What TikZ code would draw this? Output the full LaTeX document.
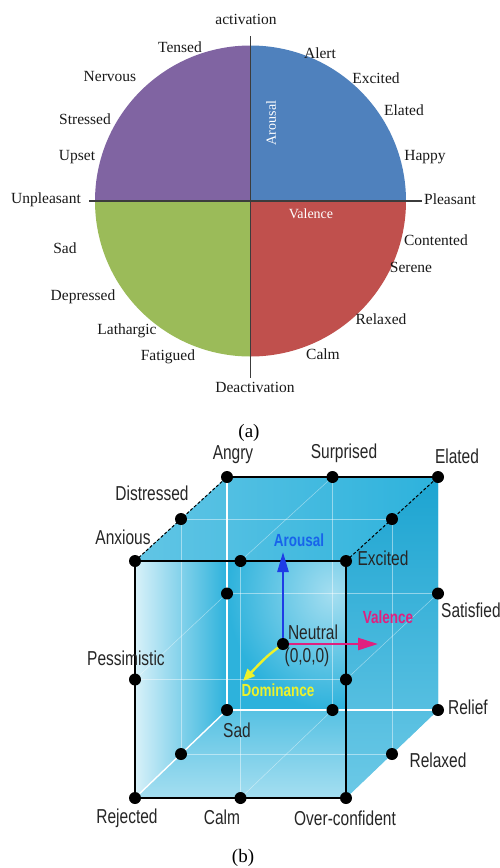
\documentclass[tikz,border=0pt]{standalone}
\usepackage{fontspec}
\setmainfont{Liberation Serif}
\setsansfont{Liberation Sans}
\usetikzlibrary{calc,arrows.meta}
\definecolor{quadpurple}{HTML}{8064A2}
\definecolor{quadblue}{HTML}{4F81BD}
\definecolor{quadgreen}{HTML}{9BBB59}
\definecolor{quadred}{HTML}{C0504D}
\definecolor{axisgray}{HTML}{3C3C3C}
\definecolor{cubecyan}{HTML}{2DB2DC}
\definecolor{cubedeep}{HTML}{1CA4D1}
\definecolor{cubepale}{HTML}{D8F1F9}
\definecolor{arousalblue}{HTML}{1E3CE6}
\definecolor{valencepink}{HTML}{E0207F}
\definecolor{dominyellow}{HTML}{EEF22A}
\def\pieslice[#1](#2)(#3:#4:#5){\fill[#1] (#2) -- ($(#2)+({#5*cos(#3)},{#5*sin(#3)})$) arc (#3:#4:#5) -- cycle;}
\tikzset{
	emo/.style={font=\fontsize{15.5}{17}\selectfont, text=black!90, inner sep=0pt},
	axname/.style={font=\fontsize{14}{16}\selectfont, text=white, inner sep=0pt},
	axis/.style={draw=axisgray, line width=1.3pt},
	cubelabel/.style={font=\fontsize{15.5}{17}\sffamily, text=black!85, yscale=1.3, inner sep=0pt},
	arrowlabel/.style={font=\fontsize{13.5}{15}\sffamily\bfseries, yscale=1.3, inner sep=0pt},
	cubeedge/.style={draw=black, line width=1.7pt},
	backedge/.style={draw=white, line width=1.4pt},
	gridline/.style={draw=white, line width=0.5pt, opacity=0.45},
	caption/.style={font=\fontsize{19}{21}\selectfont, inner sep=0pt}
}

\begin{document}
\begin{tikzpicture}[x=1pt,y=-1pt]
	\path[use as bounding box, fill=white] (0,0) rectangle (499,868);

	\coordinate (cen) at (250.5,201);
	\pieslice[quadblue](cen)(270:360:155.5)
	\pieslice[quadpurple](cen)(180:270:155.5)
	\pieslice[quadgreen](cen)(90:180:155.5)
	\pieslice[quadred](cen)(0:90:155.5)

	\coordinate (axtop) at (250.5,36);
	\coordinate (axbot) at (250.5,378);
	\coordinate (axleft) at (89,201);
	\coordinate (axright) at (422,201);
	\draw[axis] (axtop) -- (axbot);
	\draw[axis] (axleft) -- (axright);

	\node[emo] (activation) at (246,19) {activation};
	\node[emo] (tensed) at (180,47) {Tensed};
	\node[emo] (alert) at (320,53) {Alert};
	\node[emo] (nervous) at (110,76) {Nervous};
	\node[emo] (excitedA) at (376,78) {Excited};
	\node[emo] (stressed) at (85,119) {Stressed};
	\node[emo] (elatedA) at (404,110) {Elated};
	\node[emo] (upset) at (77,157) {Upset};
	\node[emo] (happy) at (425,157) {Happy};
	\node[emo] (unpleasant) at (46,200) {Unpleasant};
	\node[emo] (pleasant) at (450,199) {Pleasant};
	\node[emo] (contented) at (436,240) {Contented};
	\node[emo] (sadA) at (65,248) {Sad};
	\node[emo] (serene) at (411,267) {Serene};
	\node[emo] (depressed) at (83,297) {Depressed};
	\node[emo] (relaxedA) at (381,319) {Relaxed};
	\node[emo] (lathargic) at (127,331) {Lathargic};
	\node[emo] (calmA) at (323,354) {Calm};
	\node[emo] (fatigued) at (168,357) {Fatigued};
	\node[emo] (deactivation) at (255,387) {Deactivation};
	\node[axname, rotate=90] (arousalA) at (271,123) {Arousal};
	\node[axname] (valenceA) at (311,214) {Valence};
	\node[caption] (capa) at (249,433) {(a)};

	\coordinate (anx) at (135,561);
	\coordinate (exc) at (346,561);
	\coordinate (rej) at (135,798);
	\coordinate (ovc) at (346,798);
	\coordinate (ang) at (227,477);
	\coordinate (ela) at (438,477);
	\coordinate (sad) at (227,710);
	\coordinate (rel) at (438,710);
	\coordinate (neu) at (283,644);

	\coordinate (m-anx-ang) at ($(anx)!0.5!(ang)$);
	\coordinate (m-ang-ela) at ($(ang)!0.5!(ela)$);
	\coordinate (m-exc-ela) at ($(exc)!0.5!(ela)$);
	\coordinate (m-anx-exc) at ($(anx)!0.5!(exc)$);
	\coordinate (m-ang-sad) at ($(ang)!0.5!(sad)$);
	\coordinate (m-ela-rel) at ($(ela)!0.5!(rel)$);
	\coordinate (m-anx-rej) at ($(anx)!0.5!(rej)$);
	\coordinate (m-exc-ovc) at ($(exc)!0.5!(ovc)$);
	\coordinate (m-sad-rel) at ($(sad)!0.5!(rel)$);
	\coordinate (m-rej-sad) at ($(rej)!0.5!(sad)$);
	\coordinate (m-ovc-rel) at ($(ovc)!0.5!(rel)$);
	\coordinate (m-rej-ovc) at ($(rej)!0.5!(ovc)$);

	\shade[inner color=cubepale!70!cubecyan, outer color=cubecyan] (ang) -- (ela) -- (rel) -- (sad) -- cycle;
	\shade[left color=cubepale, right color=cubecyan] (anx) -- (ang) -- (sad) -- (rej) -- cycle;
	\shade[top color=cubecyan!80, bottom color=cubepale!70!cubecyan] (sad) -- (rel) -- (ovc) -- (rej) -- cycle;
	\shade[left color=cubecyan!75, right color=cubecyan] (anx) -- (ang) -- (ela) -- (exc) -- cycle;
	\shade[top color=cubedeep, bottom color=cubecyan!70] (exc) -- (ela) -- (rel) -- (ovc) -- cycle;

	\draw[gridline] (m-anx-exc) -- (m-rej-ovc);
	\draw[gridline] (m-anx-rej) -- (m-exc-ovc);
	\draw[gridline] (m-ang-ela) -- (m-sad-rel);
	\draw[gridline] (m-ang-sad) -- (m-ela-rel);
	\draw[gridline] (m-anx-ang) -- (m-rej-sad);
	\draw[gridline] (m-exc-ela) -- (m-ovc-rel);
	\draw[gridline] (m-anx-ang) -- (m-exc-ela);
	\draw[gridline] (m-rej-sad) -- (m-ovc-rel);
	\draw[gridline] (m-anx-exc) -- (m-ang-ela);
	\draw[gridline] (m-rej-ovc) -- (m-sad-rel);
	\draw[gridline] (m-anx-rej) -- (m-ang-sad);
	\draw[gridline] (m-exc-ovc) -- (m-ela-rel);

	\draw[backedge] (ang) -- (sad) -- (rel);
	\draw[backedge] (rej) -- (sad);
	\draw[cubeedge] (anx) -- (exc) -- (ovc) -- (rej) -- cycle;
	\draw[cubeedge] (ang) -- (ela);
	\draw[cubeedge, line width=1pt, densely dashed] (anx) -- (ang);
	\draw[cubeedge, line width=1pt, densely dashed] (exc) -- (ela);

	\coordinate (arousaltip) at (283,552);
	\coordinate (valencetip) at (378,644);
	\coordinate (dominancetip) at (243,681);
	\draw[arousalblue, line width=2.6pt, -{Triangle[length=20pt,width=11pt]}] (neu) -- (arousaltip);
	\draw[valencepink, line width=2.6pt, -{Triangle[length=20pt,width=12pt]}] (neu) -- (valencetip);
	\draw[dominyellow, line width=2.4pt, -{Triangle[length=12pt,width=10pt]}] (neu) .. controls (267,656) .. (dominancetip);

	\foreach \p in {anx,exc,rej,ovc,ang,ela,sad,rel,neu,m-anx-ang,m-ang-ela,m-exc-ela,m-anx-exc,m-ang-sad,m-ela-rel,m-anx-rej,m-exc-ovc,m-sad-rel,m-rej-sad,m-ovc-rel,m-rej-ovc}
		\fill (\p) circle (6);

	\node[arrowlabel, text=arousalblue!80!cyan] (arousalB) at (299,540) {Arousal};
	\node[arrowlabel, text=valencepink] (valenceB) at (388,617) {Valence};
	\node[arrowlabel, text=dominyellow] (dominanceB) at (278,690) {Dominance};
	\node[cubelabel] (neutral) at (313,632) {Neutral};
	\node[cubelabel] (origin) at (307,657) {(0,0,0)};

	\node[cubelabel] (angry) at (233,455) {Angry};
	\node[cubelabel] (surprised) at (344,453) {Surprised};
	\node[cubelabel] (elatedB) at (457,456) {Elated};
	\node[cubelabel] (distressed) at (152,493) {Distressed};
	\node[cubelabel] (anxious) at (123,537) {Anxious};
	\node[cubelabel] (excitedB) at (383,558) {Excited};
	\node[cubelabel, anchor=west] (satisfied) at (441,610) {Satisfied};
	\node[cubelabel] (pessimistic) at (126,658) {Pessimistic};
	\node[cubelabel] (relief) at (468,707) {Relief};
	\node[cubelabel] (sadB) at (237,730) {Sad};
	\node[cubelabel] (relaxedB) at (438,760) {Relaxed};
	\node[cubelabel] (rejected) at (127,818) {Rejected};
	\node[cubelabel] (calmB) at (222,817) {Calm};
	\node[cubelabel] (overconfident) at (345,818) {Over-confident};
	\node[caption] (capb) at (243,858) {(b)};
\end{tikzpicture}
\end{document}
